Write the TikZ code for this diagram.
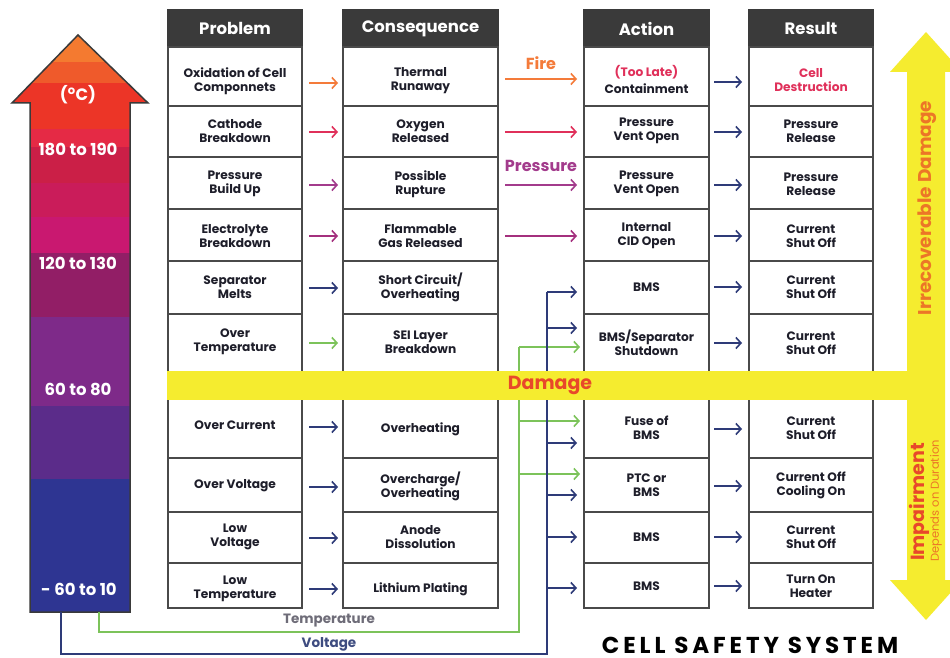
\documentclass[tikz,border=0pt]{standalone}
\usepackage{fontspec}
\setmainfont{Poppins}
\usetikzlibrary{arrows.meta}
\definecolor{navy}{HTML}{2E3B78}
\definecolor{forange}{HTML}{F47B3A}
\definecolor{crim}{HTML}{E0305A}
\definecolor{purp}{HTML}{A33B8C}
\definecolor{mag}{HTML}{A4307E}
\definecolor{grn}{HTML}{7CC35A}
\definecolor{bordergray}{HTML}{4A4A4A}
\definecolor{headgray}{HTML}{3A3A3A}
\definecolor{celltxt}{HTML}{1E1E2A}
\definecolor{yel}{HTML}{F5EC2F}
\definecolor{dmgred}{HTML}{E8482A}
\definecolor{irrorange}{HTML}{EC7627}
\definecolor{tempgray}{HTML}{6E6C78}
\definecolor{voltblue}{HTML}{3E4C80}
\definecolor{ca}{HTML}{F47A30}
\definecolor{cb}{HTML}{EF5A2B}
\definecolor{cc}{HTML}{EC3527}
\definecolor{cd}{HTML}{E52A45}
\definecolor{ce}{HTML}{CB1F47}
\definecolor{cf}{HTML}{CA1C5A}
\definecolor{cg}{HTML}{C91870}
\definecolor{ch}{HTML}{921E66}
\definecolor{ci}{HTML}{7E2A89}
\definecolor{cj}{HTML}{5B2C8A}
\definecolor{ck}{HTML}{2E3592}
\newcommand\mkcell[7]{%
  \node[cellbox, minimum width={#3-#2}, minimum height={#5-#4}] (#1) at ({(#2+#3)/2},{(#4+#5)/2}) {};
  \node[celltext] (#1t) at ({(#2+#3)/2},#6) {#7};}
\newcommand\mkhead[4]{%
  \node[headbox, minimum width={#3-#2}, minimum height=37] (#1) at ({(#2+#3)/2},28.5) {#4};}
\begin{document}
\begin{tikzpicture}[x=1pt,y=-1pt,
  cellbox/.style={draw=bordergray, line width=2pt, fill=white, rectangle, inner sep=0pt},
  celltext/.style={align=center, font=\bfseries\fontsize{12.2}{14}\selectfont, text=celltxt, inner sep=0pt},
  headbox/.style={draw=headgray, fill=headgray, line width=2pt, rectangle, inner sep=0pt, text=white, font=\bfseries\fontsize{16.5}{18}\selectfont},
  arr/.style={line width=1.6pt, -{Straight Barb[length=5pt,width=11pt]}},
  tline/.style={line width=1.6pt},
  tscale/.style={text=white, font=\bfseries\fontsize{16.5}{18}\selectfont}
]
\useasboundingbox (0,0) rectangle (950,658);
\fill[white] (0,0) rectangle (950,658);

% ---------- left temperature arrow ----------
\begin{scope}
\clip (30,612) -- (30,103) -- (12,103) -- (78,35) -- (148,103) -- (130,103) -- (130,612) -- cycle;
\fill[ca] (0,30) rectangle (160,62);
\fill[cb] (0,62) rectangle (160,83);
\fill[cc] (0,83) rectangle (160,129);
\fill[cd] (0,129) rectangle (160,147);
\fill[ce] (0,147) rectangle (160,183);
\fill[cf] (0,183) rectangle (160,217);
\fill[cg] (0,217) rectangle (160,253);
\fill[ch] (0,253) rectangle (160,317);
\fill[ci] (0,317) rectangle (160,406);
\fill[cj] (0,406) rectangle (160,479);
\fill[ck] (0,479) rectangle (160,614);
\end{scope}
\draw[line width=1.5pt, draw=headgray, line join=miter] (30,612) -- (30,103) -- (12,103) -- (78,35) -- (148,103) -- (130,103) -- (130,612) -- cycle;
\node[tscale] (tunit) at (78,95) {(\textsuperscript{o}C)};
\node[tscale] (t180) at (78,149) {180 to 190};
\node[tscale] (t120) at (78,263) {120 to 130};
\node[tscale] (t60) at (78,389) {60 to 80};
\node[tscale] (tm60) at (79,589) {- 60 to 10};
\coordinate (vstart) at (61,612);
\coordinate (tstart) at (99,612);

% ---------- headers ----------
\mkhead{hp}{168}{302}{Problem}
\mkhead{hc}{343}{498}{Consequence}
\mkhead{ha}{584}{709}{Action}
\mkhead{hr}{749}{873}{Result}

% ---------- Problem column ----------
\mkcell{p1}{168}{302}{47}{106}{81}{Oxidation of Cell\\Componnets}
\mkcell{p2}{168}{302}{106}{157}{131}{Cathode\\Breakdown}
\mkcell{p3}{168}{302}{157}{209}{184}{Pressure\\Build Up}
\mkcell{p4}{168}{302}{209}{261}{236}{Electrolyte\\Breakdown}
\mkcell{p5}{168}{302}{261}{314}{287}{Separator\\Melts}
\mkcell{p6}{168}{302}{314}{385}{342}{Over\\Temperature}
\mkcell{p7}{168}{302}{385}{458}{425}{Over Current}
\mkcell{p8}{168}{302}{458}{512}{486}{Over Voltage}
\mkcell{p9}{168}{302}{512}{563}{537}{Low\\Voltage}
\mkcell{p10}{168}{302}{563}{608}{589}{Low\\Temperature}
% ---------- Consequence column ----------
\mkcell{c1}{343}{498}{47}{106}{81}{Thermal\\Runaway}
\mkcell{c2}{343}{498}{106}{157}{131}{Oxygen\\Released}
\mkcell{c3}{343}{498}{157}{209}{184}{Possible\\Rupture}
\mkcell{c4}{343}{498}{209}{261}{236}{Flammable\\Gas Released}
\mkcell{c5}{343}{498}{261}{314}{287}{Short Circuit/\\Overheating}
\mkcell{c6}{343}{498}{314}{385}{342}{SEI Layer\\Breakdown}
\mkcell{c7}{343}{498}{385}{458}{429}{Overheating}
\mkcell{c8}{343}{498}{458}{512}{486}{Overcharge/\\Overheating}
\mkcell{c9}{343}{498}{512}{563}{537}{Anode\\Dissolution}
\mkcell{c10}{343}{498}{563}{608}{589}{Lithium Plating}
% ---------- Action column ----------
\mkcell{a1}{584}{709}{47}{106}{79}{{\color{crim}(Too Late)}\\[3pt]Containment}
\mkcell{a2}{584}{709}{106}{157}{131}{Pressure\\Vent Open}
\mkcell{a3}{584}{709}{157}{209}{184}{Pressure\\Vent Open}
\mkcell{a4}{584}{709}{209}{261}{236}{Internal\\CID Open}
\mkcell{a5}{584}{709}{261}{314}{287}{BMS}
\mkcell{a6}{584}{709}{314}{385}{343}{BMS/Separator\\Shutdown}
\mkcell{a7}{584}{709}{385}{458}{428}{Fuse of\\BMS}
\mkcell{a8}{584}{709}{458}{512}{485}{PTC or\\BMS}
\mkcell{a9}{584}{709}{512}{563}{537}{BMS}
\mkcell{a10}{584}{709}{563}{608}{586}{BMS}
% ---------- Result column ----------
\mkcell{r1}{749}{873}{47}{106}{80}{{\color{crim}Cell}\\{\color{crim}Destruction}}
\mkcell{r2}{749}{873}{106}{157}{131}{Pressure\\Release}
\mkcell{r3}{749}{873}{157}{209}{184}{Pressure\\Release}
\mkcell{r4}{749}{873}{209}{261}{236}{Current\\Shut Off}
\mkcell{r5}{749}{873}{261}{314}{287}{Current\\Shut Off}
\mkcell{r6}{749}{873}{314}{385}{343}{Current\\Shut Off}
\mkcell{r7}{749}{873}{385}{458}{428}{Current\\Shut Off}
\mkcell{r8}{749}{873}{458}{512}{485}{Current Off\\Cooling On}
\mkcell{r9}{749}{873}{512}{563}{537}{Current\\Shut Off}
\mkcell{r10}{749}{873}{563}{608}{586}{Turn On\\Heater}

% ---------- Problem -> Consequence arrows ----------
\foreach \i/\y/\c in {1/83/forange,2/132/crim,3/185/purp,4/236/mag,5/288/navy,6/343/grn,7/427/navy,8/487/navy,9/538/navy,10/589/navy}{
  \draw[arr,\c] ([xshift=6pt]p\i.east |- 0,\y) -- ([xshift=-4pt]c\i.west |- 0,\y);
}
% ---------- Consequence -> Action arrows ----------
\foreach \i/\y/\c in {1/79/forange,2/132/crim,3/185/purp,4/236/mag}{
  \draw[arr,\c] ([xshift=6pt]c\i.east |- 0,\y) -- ([xshift=-6pt]a\i.west |- 0,\y);
}
\node[text=forange, font=\bfseries\fontsize{16}{18}\selectfont] (fire) at (541,63) {Fire};
\node[text=purp, font=\bfseries\fontsize{16}{18}\selectfont] (press) at (541,166) {Pressure};
% ---------- Action -> Result arrows ----------
\foreach \i/\y in {1/82,2/132,3/185,4/236,5/287,6/343,7/429,8/486,9/537,10/586}{
  \draw[arr,navy] ([xshift=4pt]a\i.east |- 0,\y) -- ([xshift=-6pt]r\i.west |- 0,\y);
}

% ---------- Temperature (green) line ----------
\coordinate (tcorner) at (99,632);
\coordinate (tbus) at (519,632);
\coordinate (ttop) at (519,347);
\draw[tline,grn] (tstart) -- (tcorner) -- (tbus) -- (ttop);
\foreach \i/\y in {6/347,7/421,8/474}{
  \draw[arr,grn] (ttop |- 0,\y) -- ([xshift=-3pt]a\i.west |- 0,\y);
}
% ---------- Voltage (navy) line ----------
\coordinate (vcorner) at (61,654);
\coordinate (vbus) at (547,654);
\coordinate (vtop) at (547,292);
\draw[tline,navy] (vstart) -- (vcorner) -- (vbus) -- (vtop);
\foreach \i/\y in {5/292,6/328,7/443,8/495,9/537,10/588}{
  \draw[arr,navy] (vtop |- 0,\y) -- ([xshift=-6pt]a\i.west |- 0,\y);
}
\node[text=tempgray, font=\bfseries\fontsize{13.5}{15}\selectfont] (tlabel) at (329,621) {Temperature};
\node[text=voltblue, font=\bfseries\fontsize{13.5}{15}\selectfont] (vlabel) at (329,644) {Voltage};

% ---------- Damage band and right double arrow ----------
\fill[yel] (167,371) rectangle (908,400);
\node[text=dmgred, font=\bfseries\fontsize{19}{21}\selectfont] (damage) at (550,385) {Damage};
\fill[yel] (926,32) -- (962,72) -- (945,72) -- (945,580) -- (962,580) -- (926,620) -- (890,580) -- (907,580) -- (907,72) -- (890,72) -- cycle;
\node[rotate=90, text=irrorange, font=\bfseries\fontsize{18.5}{20}\selectfont] (irr) at (927,208) {Irrecoverable Damage};
\node[rotate=90, text=dmgred, font=\bfseries\fontsize{19}{21}\selectfont] (imp) at (919,502) {Impairment};
\node[rotate=90, text=irrorange, font=\fontsize{11.5}{13}\selectfont] (dep) at (936,501) {Depends on Duration};

% ---------- Title ----------
\node[text=black, inner sep=0pt, font=\bfseries\fontsize{23}{25}\selectfont\addfontfeature{LetterSpace=17}] (title) at (750,645) {CELL SAFETY SYSTEM};
\end{tikzpicture}
\end{document}
